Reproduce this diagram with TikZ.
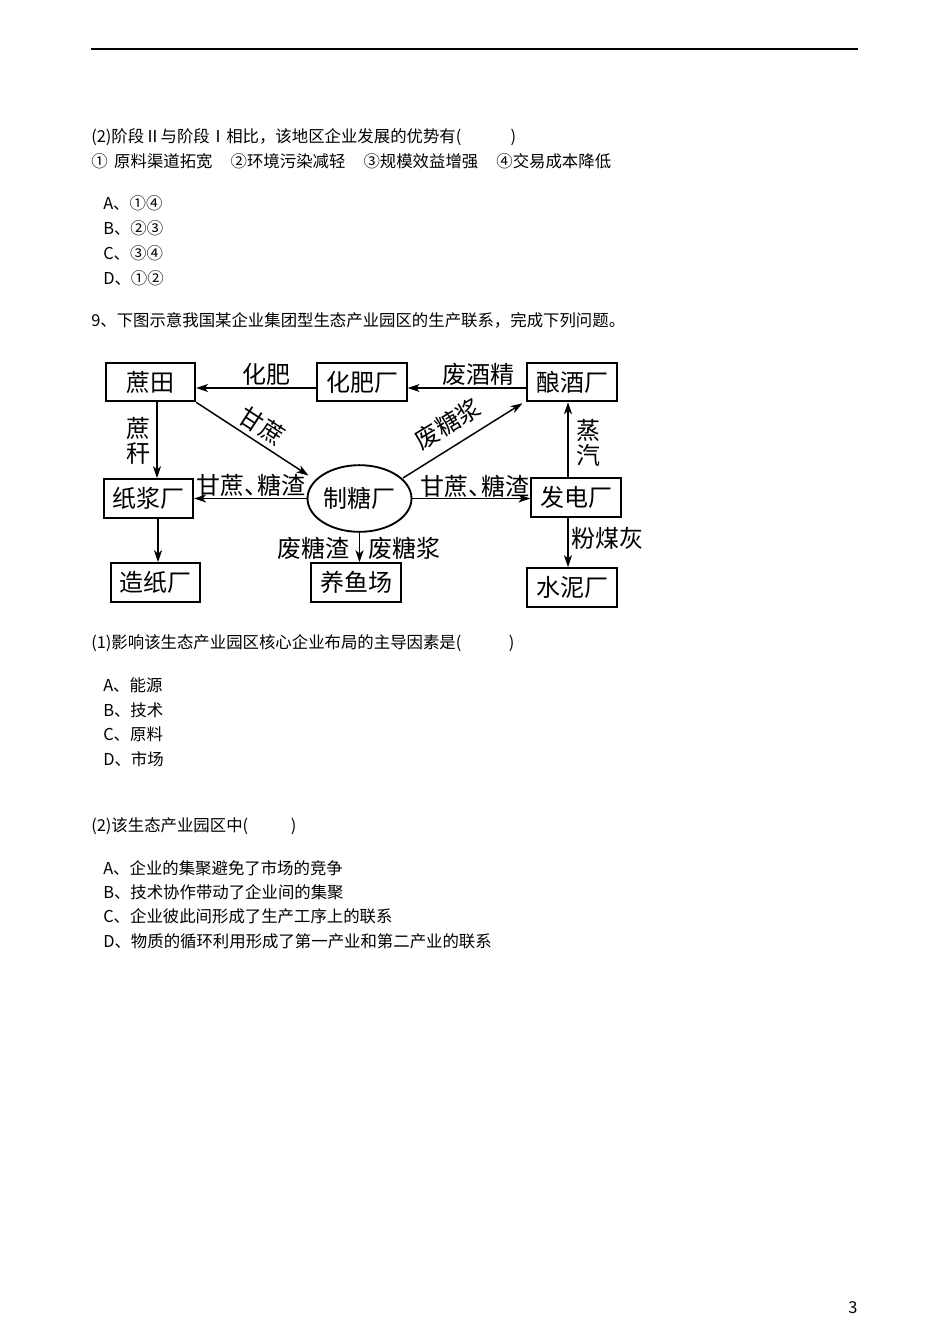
\documentclass[tikz,border=0pt]{standalone}
\usepackage{fontspec}
\setmainfont{Noto Sans CJK SC}
\usetikzlibrary{shapes.geometric,arrows.meta,calc}
\begin{document}
\begin{tikzpicture}[x=0.75pt,y=-0.75pt,
  body/.style={anchor=west,inner sep=0pt,font=\fontsize{12.3pt}{14pt}\selectfont},
  box/.style={draw,line width=1.4pt,minimum width=67pt,minimum height=29pt,inner sep=0pt,font=\fontsize{18pt}{20pt}\selectfont},
  ell/.style={draw,ellipse,line width=1.4pt,minimum width=78pt,minimum height=50pt,inner sep=0pt,font=\fontsize{18pt}{20pt}\selectfont},
  lab/.style={inner sep=0pt,align=center,font=\fontsize{18pt}{19pt}\selectfont},
  arr/.style={line width=1.1pt,-{Stealth[length=9pt,width=6pt,inset=2.5pt]}}]
\useasboundingbox[fill=white] (0,0) rectangle (950,1344);
% top rule
\draw[line width=1.1pt] (91,49) -- (858,49);
% question text above
\node[body] (t1) at (91,137) {(2)阶段Ⅱ与阶段Ⅰ相比，该地区企业发展的优势有(\hspace{3em})};
\node[body] (t2) at (91,161) {①\hspace{0.4em}原料渠道拓宽\hspace{1.1em}②环境污染减轻\hspace{1.1em}③规模效益增强\hspace{1.1em}④交易成本降低};
\node[body] (a1) at (103,203) {A、①④};
\node[body] (b1) at (103,228) {B、②③};
\node[body] (c1) at (103,253) {C、③④};
\node[body] (d1) at (103,278) {D、①②};
\node[body] (t3) at (91,320) {9、下图示意我国某企业集团型生态产业园区的生产联系，完成下列问题。};
% diagram
\node[box] (zt) at (150.5,382) {蔗田};
\node[box] (hf) at (362,382) {化肥厂};
\node[box] (nj) at (572,382) {酿酒厂};
\node[box] (zj) at (148.5,498.5) {纸浆厂};
\node[ell] (zt2) at (359.5,498.5) {制糖厂};
\node[box] (fd) at (576,497.5) {发电厂};
\node[box] (zz) at (155.5,582.5) {造纸厂};
\node[box] (yy) at (356,582.5) {养鱼场};
\node[box] (sn) at (572,587.5) {水泥厂};
% connectors
\draw[arr] ($(hf.west)+(0,6)$) -- ($(zt.east)+(0,6)$);
\draw[arr] ($(nj.west)+(0,6)$) -- ($(hf.east)+(0,6)$);
\coordinate (v1) at ($(zt.south)+(6.5,0)$);
\draw[arr] (v1) -- (v1 |- zj.north);
\coordinate (v2) at ($(zj.south)+(9.5,0)$);
\draw[arr] (v2) -- (v2 |- zz.north);
\coordinate (v3) at ($(fd.north)+(-8,0)$);
\draw[arr] (v3) -- (v3 |- nj.south);
\coordinate (v4) at ($(fd.south)+(-8,0)$);
\draw[arr] (v4) -- (v4 |- sn.north);
\draw[arr] (zt2.south) -- (zt2.south |- yy.north);
\draw[arr] (zt2.west) -- (zt2.west -| zj.east);
\draw[arr] (zt2.east) -- (zt2.east -| fd.west);
\coordinate (zte) at ($(zt2.center)+(-51,-23)$);
\draw[arr] (zt.south east) -- (zte);
\coordinate (zts) at ($(zt2.center)+(43.5,-20.5)$);
\coordinate (nje) at ($(nj.south west)+(-4,1)$);
\draw[arr] (zts) -- (nje);
% labels
\node[lab] (l1) at (266,374) {化肥};
\node[lab] (l2) at (478,374) {废酒精};
\node[lab] (l3) at (138,441) {蔗\\秆};
\node[lab,rotate=-33] (l4) at (262,426) {甘蔗};
\node[lab,rotate=31] (l5) at (448,424) {废糖浆};
\node[lab] (l6) at (251,485) {甘蔗、\kern-0.45em糖渣};
\node[lab] (l7) at (475,486) {甘蔗、\kern-0.45em糖渣};
\node[lab] (l8) at (588,443) {蒸\\汽};
\node[lab] (l9) at (607.5,538) {粉煤灰};
\node[lab] (l10) at (313,548) {废糖渣};
\node[lab] (l11) at (404,548) {废糖浆};
% questions below
\node[body] (t4) at (91,643) {(1)影响该生态产业园区核心企业布局的主导因素是(\hspace{2.9em})};
\node[body] (a2) at (103,685) {A、能源};
\node[body] (b2) at (103,710) {B、技术};
\node[body] (c2) at (103,734) {C、原料};
\node[body] (d2) at (103,759) {D、市场};
\node[body] (t5) at (91,826) {(2)该生态产业园区中(\hspace{2.6em})};
\node[body] (a3) at (103,868) {A、企业的集聚避免了市场的竞争};
\node[body] (b3) at (103,892) {B、技术协作带动了企业间的集聚};
\node[body] (c3) at (103,916) {C、企业彼此间形成了生产工序上的联系};
\node[body] (d3) at (103,941) {D、物质的循环利用形成了第一产业和第二产业的联系};
\node[body] (pg) at (848,1308) {3};
\end{tikzpicture}
\end{document}
